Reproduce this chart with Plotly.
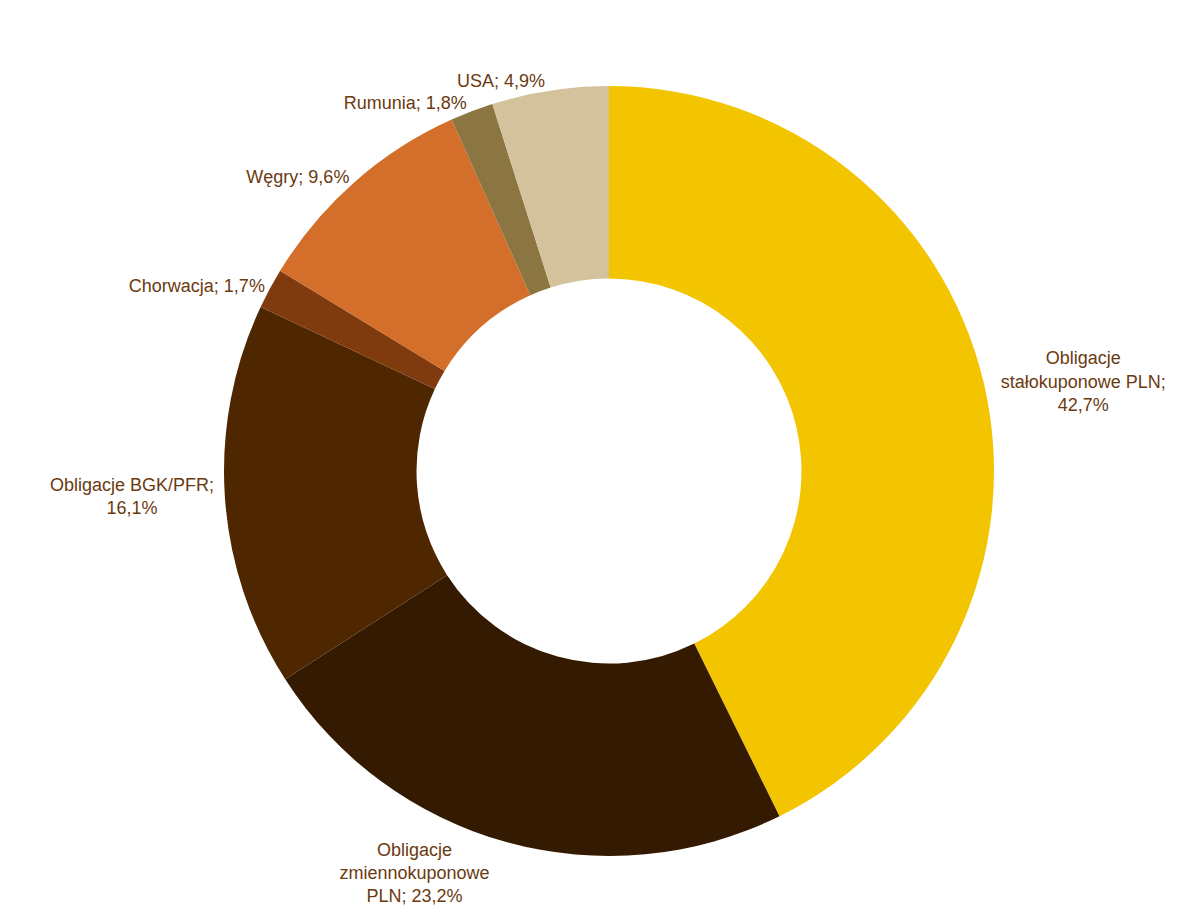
import plotly.graph_objects as go

labels = ["Obligacje<br>stałokuponowe PLN", "Obligacje<br>zmiennokuponowe<br>PLN", "Obligacje BGK/PFR", "Chorwacja", "Węgry", "Rumunia", "USA"]
values = [42.7, 23.2, 16.1, 1.7, 9.6, 1.8, 4.9]
colors = ["#F2C500", "#341A00", "#4E2600", "#7F3A0E", "#D36E2B", "#8B7540", "#D4C29D"]

fig = go.Figure(go.Pie(
    labels=labels, values=values, hole=0.5, sort=False, direction="clockwise",
    rotation=0, marker=dict(colors=colors),
    textposition="outside", texttemplate="%{label};<br>%{value:.1f}%",
    textfont=dict(family="Liberation Sans, Arial", size=18, color="#6B3A10"),
    showlegend=False,
))
fig.update_traces(texttemplate=[
    "%{label};<br>%{value:.1f}%", "%{label}; %{value:.1f}%", "%{label};<br>%{value:.1f}%",
    "%{label}; %{value:.1f}%", "%{label}; %{value:.1f}%", "%{label}; %{value:.1f}%", "%{label}; %{value:.1f}%"])
fig.update_layout(width=1200, height=924, separators=",.",
                  margin=dict(l=0, r=0, t=78, b=76),
                  paper_bgcolor="white", plot_bgcolor="white")
fig.write_html("out.html")
